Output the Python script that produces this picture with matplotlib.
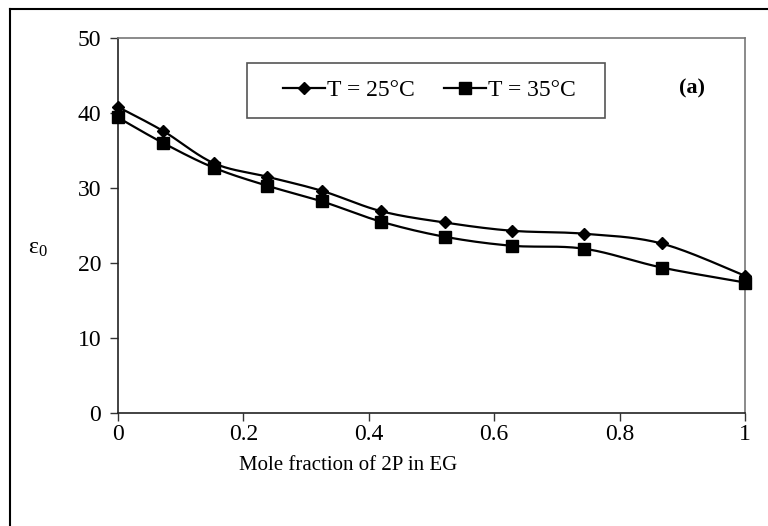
import numpy as np
import matplotlib.pyplot as plt
from matplotlib.lines import Line2D
from matplotlib.patches import Rectangle

plt.rcParams['font.family'] = ['Liberation Serif', 'DejaVu Serif']

# data
x_frac = [0.0, 0.072, 0.153, 0.238, 0.326, 0.42, 0.521, 0.628, 0.744, 0.867, 1.0]
eps_25 = [40.8, 37.6, 33.3, 31.5, 29.6, 26.9, 25.4, 24.3, 23.9, 22.6, 18.3]
eps_35 = [39.4, 36.0, 32.7, 30.3, 28.2, 25.5, 23.5, 22.3, 21.9, 19.4, 17.4]
labels = ["T = 25°C", "T = 35°C"]
x_ticks = [0, 0.2, 0.4, 0.6, 0.8, 1]
x_ticklabels = ["0", "0.2", "0.4", "0.6", "0.8", "1"]
y_ticks = [0, 10, 20, 30, 40, 50]


# excel-style smoothed line (bezier with 1/6 neighbour tangents)
def smooth(xs, ys, n=20):
    p = np.column_stack([xs, ys])
    p = np.vstack([p[0], p, p[-1]])
    out = []
    for i in range(1, len(p) - 2):
        p0, p1, p2, p3 = p[i - 1], p[i], p[i + 1], p[i + 2]
        c1 = p1 + (p2 - p0) / 6.0
        c2 = p2 - (p3 - p1) / 6.0
        t = np.linspace(0, 1, n)[:, None]
        seg = ((1 - t)**3 * p1 + 3 * (1 - t)**2 * t * c1
               + 3 * (1 - t) * t**2 * c2 + t**3 * p2)
        out.append(seg if i == 1 else seg[1:])
    s = np.vstack(out)
    return s[:, 0], s[:, 1]


fig = plt.figure(figsize=(7.68, 5.26), dpi=100)
ax = fig.add_axes([0.1536, 0.2148, 0.8164, 0.713])

for ys, mk, ms in [(eps_25, "D", 6.5), (eps_35, "s", 8.5)]:
    sx, sy = smooth(x_frac, ys)
    ax.plot(sx, sy, color="black", lw=1.6, zorder=2)
    ax.plot(x_frac, ys, linestyle="none", marker=mk, ms=ms, color="black",
            clip_on=False, zorder=3)

ax.set_xlim(0, 1)
ax.set_ylim(0, 50)
ax.set_xticks(x_ticks)
ax.set_xticklabels(x_ticklabels)
ax.set_yticks(y_ticks)
ax.tick_params(direction="out", length=6, width=1, labelsize=17,
               color="#333333")
ax.tick_params(axis="x", pad=2)
ax.tick_params(axis="y", pad=6)
for side in ["top", "right"]:
    ax.spines[side].set_color("#777777")
for side in ["left", "bottom"]:
    ax.spines[side].set_color("#222222")
for s in ax.spines.values():
    s.set_linewidth(1.2)

ax.set_xlabel("Mole fraction of 2P in EG", fontsize=15)
ax.xaxis.set_label_coords(0.367, -0.115)
fig.text(0.037, 0.527, r"$\mathregular{\varepsilon_0}$", fontsize=17,
         ha="left", va="center")

# legend box drawn by hand, entries centred in it
ax.add_patch(Rectangle((0.206, 0.787), 0.571, 0.147, transform=ax.transAxes,
                       facecolor="white", edgecolor="#555555", lw=1.2,
                       zorder=4))
handles = [Line2D([], [], color="black", lw=1.6, marker="D", ms=6.5),
           Line2D([], [], color="black", lw=1.6, marker="s", ms=8.5)]
leg = ax.legend(handles, labels, loc="center", bbox_to_anchor=(0.497, 0.861),
                ncol=2, fontsize=17, frameon=False,
                handlelength=1.75, handletextpad=0.1, columnspacing=1.25)
leg.set_zorder(5)

ax.text(0.915, 0.865, "(a)", transform=ax.transAxes, fontsize=16,
        fontweight="bold", ha="center", va="center")

# outer chart frame (left and top edges visible)
fig.add_artist(Line2D([10 / 768, 10 / 768], [0, 1 - 9 / 526],
                      color="black", lw=1.5, transform=fig.transFigure))
fig.add_artist(Line2D([10 / 768, 1], [1 - 9 / 526, 1 - 9 / 526],
                      color="black", lw=1.5, transform=fig.transFigure))

fig.savefig("out.png", dpi=100)
